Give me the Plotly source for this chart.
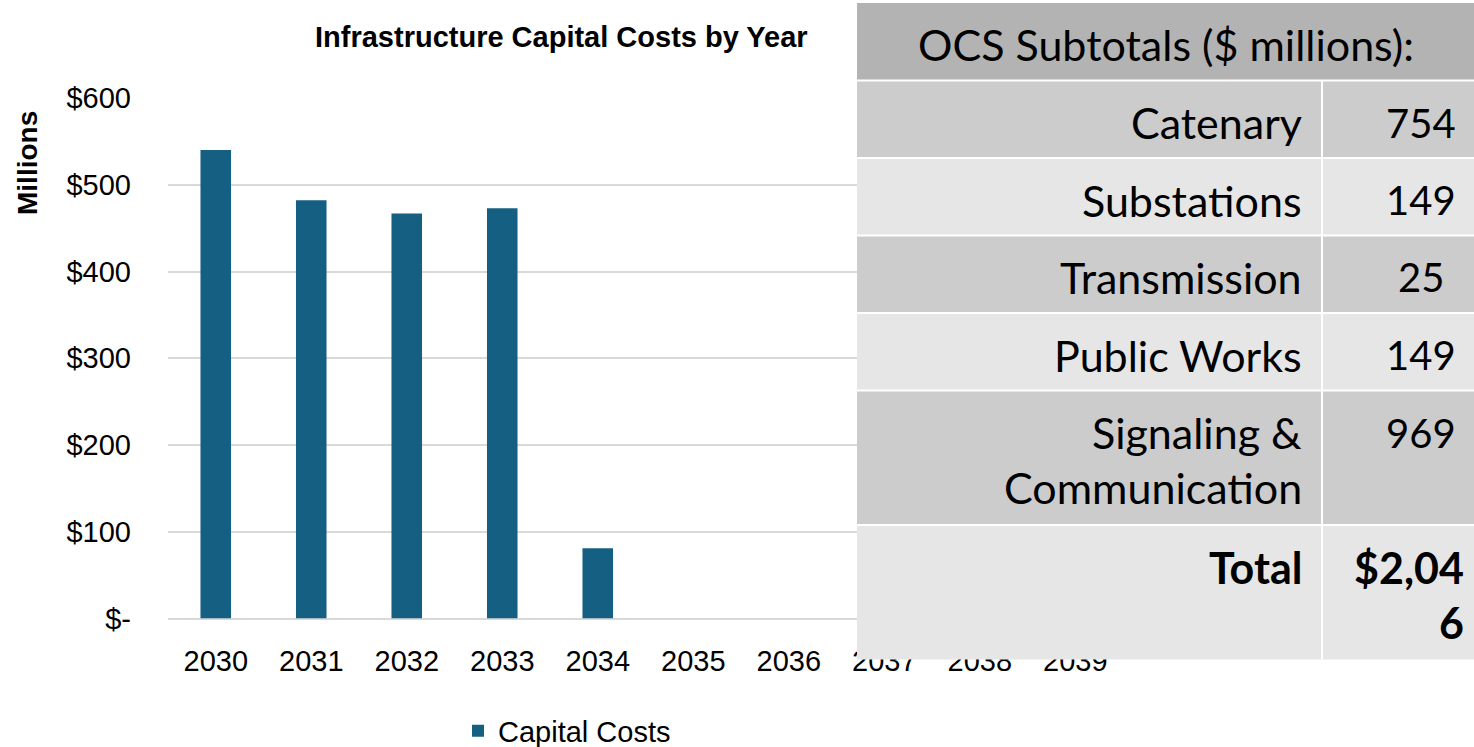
import plotly.graph_objects as go

# ---- chart data ----
years = ["2030", "2031", "2032", "2033", "2034", "2035", "2036", "2037", "2038", "2039"]
capital_costs = [540, 482, 467, 473, 81, 0, 0, 0, 0, 0]
y_tick_values = [0, 100, 200, 300, 400, 500, 600]
y_tick_labels = ["$-", "$100", "$200", "$300", "$400", "$500", "$600"]

# ---- OCS subtotal table data ($ millions) ----
table_title = "OCS Subtotals ($ millions):"
ocs_items = ["Catenary", "Substations", "Transmission", "Public Works", "Signaling &\nCommunication"]
ocs_values = [754, 149, 25, 149, 969]
total_label = "Total"

W, H = 1474, 747
BAR_COLOR = "#156082"
CHART_FONT = "Liberation Sans, Arial, sans-serif"
TABLE_FONT = "Lato, Calibri, sans-serif"
LABEL_SIZE = 43
NUM_SIZE = 40


def px(x):
    return x / W


def py(y):
    return 1 - y / H


fig = go.Figure()
fig.add_trace(go.Bar(
    x=years, y=capital_costs, name="Capital Costs",
    marker=dict(color=BAR_COLOR, line=dict(width=0)), width=0.32,
))

fig.update_layout(
    width=W, height=H,
    margin=dict(l=0, r=0, t=0, b=0, autoexpand=False),
    paper_bgcolor="white", plot_bgcolor="white",
    font=dict(family=CHART_FONT, size=29, color="#000000"),
    showlegend=True,
    legend=dict(orientation="h", x=px(567), xanchor="center", y=py(731), yanchor="middle",
                font=dict(size=29), itemsizing="constant"),
    xaxis=dict(domain=[px(168), px(1123)], type="category", showgrid=False,
               showline=False, ticks="", ticklabelstandoff=22, automargin=False),
    yaxis=dict(domain=[py(618.5), py(98)], range=[0, 600], tickvals=y_tick_values,
               ticktext=y_tick_labels, showgrid=True, gridcolor="#d9d9d9", gridwidth=2,
               zeroline=True, zerolinecolor="#d9d9d9", zerolinewidth=2,
               showline=False, ticks="", ticklabelstandoff=36, automargin=False),
)

annotations = [
    dict(text="<b>Infrastructure Capital Costs by Year</b>", x=px(561), y=py(37),
         xref="paper", yref="paper", xanchor="center", yanchor="middle",
         showarrow=False, font=dict(family=CHART_FONT, size=29)),
    dict(text="<b>Millions</b>", x=px(27), y=py(163), xref="paper", yref="paper",
         xanchor="center", yanchor="middle", textangle=-90, showarrow=False,
         font=dict(family=CHART_FONT, size=28)),
]

# ---- table drawn as shapes + text ----
shapes = []
TX0, TX1, TXC = 857, 1474, 1322
TOP = 3
ROW_BASE, LINE_H = 20.5, 57
HEADER_FILL = "#b3b3b3"
fills = ["#cccccc", "#e6e6e6"]

# header row spanning both columns
header_bottom = TOP + ROW_BASE + LINE_H
shapes.append(dict(type="rect", xref="paper", yref="paper", layer="above",
                   x0=px(TX0), x1=px(TX1), y0=py(TOP), y1=py(header_bottom),
                   fillcolor=HEADER_FILL, line=dict(width=0)))
annotations.append(dict(text=table_title, x=px((TX0 + TX1) / 2), y=py(TOP + 42),
                        xref="paper", yref="paper", xanchor="center", yanchor="middle",
                        showarrow=False,
                        font=dict(family=TABLE_FONT, size=LABEL_SIZE, color="#000")))

total_value = sum(ocs_values)
total_text = f"${total_value:,}"
rows = [(lbl.split("\n"), [f"{v}"], False) for lbl, v in zip(ocs_items, ocs_values)]
rows.append(([total_label], [total_text[:-1], total_text[-1]], True))

top = header_bottom
dividers = [top]
for i, (label_lines, value_lines, bold) in enumerate(rows):
    n = max(len(label_lines), len(value_lines))
    bottom = top + ROW_BASE + LINE_H * n
    shapes.append(dict(type="rect", xref="paper", yref="paper", layer="above",
                       x0=px(TX0), x1=px(TX1), y0=py(top), y1=py(bottom),
                       fillcolor=fills[i % 2], line=dict(width=0)))
    for k, line in enumerate(label_lines):
        t = f"<b>{line}</b>" if bold else line
        annotations.append(dict(text=t, x=px(1304), y=py(top + 42 + 55 * k),
                                xref="paper", yref="paper", xanchor="right", yanchor="middle",
                                showarrow=False,
                                font=dict(family=TABLE_FONT, size=LABEL_SIZE, color="#000")))
    for k, line in enumerate(value_lines):
        if bold:
            ann = dict(text=f"<b>{line}</b>", x=px(1466), xanchor="right",
                       font=dict(family=TABLE_FONT, size=LABEL_SIZE, color="#000"))
        else:
            ann = dict(text=line, x=px(1421), xanchor="center",
                       font=dict(family=TABLE_FONT, size=NUM_SIZE, color="#000"))
        ann.update(y=py(top + 42 + 55 * k), xref="paper", yref="paper", yanchor="middle",
                   showarrow=False)
        annotations.append(ann)
    top = bottom
    dividers.append(top)

# white cell borders
for yv in dividers[:-1]:
    shapes.append(dict(type="line", xref="paper", yref="paper", layer="above",
                       x0=px(TX0), x1=px(TX1), y0=py(yv), y1=py(yv),
                       line=dict(color="white", width=2)))
shapes.append(dict(type="line", xref="paper", yref="paper", layer="above",
                   x0=px(TXC), x1=px(TXC), y0=py(header_bottom), y1=py(top),
                   line=dict(color="white", width=2)))

fig.update_layout(shapes=shapes, annotations=annotations)
fig.write_html("out.html")
